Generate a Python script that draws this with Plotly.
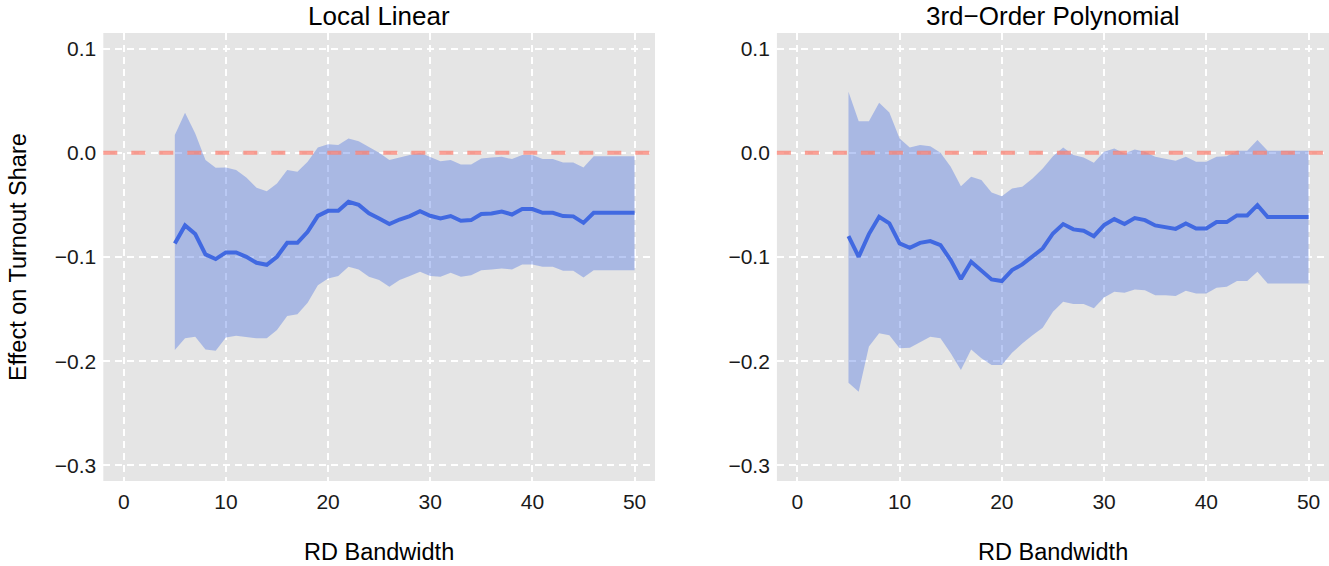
import plotly.graph_objects as go

bandwidth = list(range(5, 51))

ll_est = [-0.087, -0.0697, -0.078, -0.0975, -0.102, -0.0956, -0.0956, -0.0998, -0.1056, -0.1075,
          -0.0998, -0.0864, -0.0864, -0.0758, -0.0605, -0.0557, -0.0557, -0.047, -0.050, -0.058,
          -0.063, -0.0684, -0.064, -0.0607, -0.056, -0.0604, -0.063, -0.0607, -0.0652, -0.0646,
          -0.0588, -0.0582, -0.0563, -0.0592, -0.054, -0.054, -0.0576, -0.0576, -0.0607, -0.061,
          -0.0672, -0.0576, -0.0576, -0.0576, -0.0576, -0.0576]
ll_hi = [0.017, 0.0384, 0.0186, -0.007, -0.0144, -0.014, -0.0166, -0.0236, -0.0336, -0.0368,
         -0.0294, -0.0166, -0.0182, -0.0086, 0.0052, 0.0083, 0.0074, 0.0138, 0.0112, 0.0058,
         0.0, -0.007, -0.0044, -0.0022, 0.0, -0.0038, -0.008, -0.007, -0.0111, -0.0111,
         -0.0054, -0.0044, -0.0038, -0.006, -0.0022, -0.0022, -0.006, -0.006, -0.0092, -0.0092,
         -0.014, -0.0032, -0.0032, -0.0032, -0.0032, -0.0032]
ll_lo = [-0.1893, -0.178, -0.1766, -0.1887, -0.19, -0.1772, -0.1756, -0.1766, -0.178, -0.178,
         -0.170, -0.1567, -0.155, -0.144, -0.127, -0.1206, -0.1183, -0.1094, -0.112, -0.119,
         -0.122, -0.1286, -0.122, -0.1183, -0.1142, -0.1183, -0.119, -0.1152, -0.119, -0.1174,
         -0.1126, -0.112, -0.111, -0.112, -0.1071, -0.1071, -0.1094, -0.1094, -0.1132, -0.1132,
         -0.1196, -0.1126, -0.1126, -0.1126, -0.1126, -0.1126]

poly_est = [-0.080, -0.0998, -0.078, -0.0614, -0.0678, -0.087, -0.0912, -0.0864, -0.0847, -0.0886,
            -0.103, -0.1212, -0.1046, -0.1126, -0.1215, -0.1231, -0.1126, -0.1071, -0.0998, -0.0918,
            -0.0774, -0.0684, -0.0735, -0.0748, -0.080, -0.0694, -0.0636, -0.0684, -0.0627, -0.0646,
            -0.0697, -0.071, -0.073, -0.0678, -0.0726, -0.0726, -0.0665, -0.0665, -0.0601, -0.0601,
            -0.0502, -0.0617, -0.0617, -0.0617, -0.0617, -0.0617]
poly_hi = [0.0585, 0.0304, 0.0304, 0.048, 0.0388, 0.0138, 0.0052, 0.0074, 0.0064, 0.0,
           -0.0134, -0.032, -0.023, -0.026, -0.038, -0.0416, -0.0342, -0.0326, -0.0246, -0.015,
           -0.0032, 0.0052, -0.0022, -0.0044, -0.0096, 0.001, 0.0042, -0.0006, 0.0033, 0.001,
           -0.0038, -0.0058, -0.0077, -0.0038, -0.0086, -0.0086, -0.0038, -0.0032, 0.0019, 0.0019,
           0.0122, 0.0019, 0.0019, 0.0019, 0.0019, 0.0019]
poly_lo = [-0.2207, -0.2294, -0.186, -0.1733, -0.175, -0.1877, -0.187, -0.1814, -0.1766, -0.178,
           -0.1925, -0.2085, -0.1887, -0.1973, -0.2037, -0.2037, -0.192, -0.183, -0.175, -0.168,
           -0.1526, -0.143, -0.1452, -0.1452, -0.1493, -0.1388, -0.1334, -0.1343, -0.1311, -0.1318,
           -0.1366, -0.1366, -0.1375, -0.1324, -0.135, -0.135, -0.1296, -0.1286, -0.1231, -0.1231,
           -0.1142, -0.1254, -0.1254, -0.1254, -0.1254, -0.1254]

panel_titles = ["Local Linear", "3rd\u2212Order Polynomial"]
x_ticks = [0, 10, 20, 30, 40, 50]
y_ticks = [0.1, 0.0, -0.1, -0.2, -0.3]

W, H = 1329, 566
FONT = "Liberation Sans, Arial, sans-serif"
BAND = "rgba(65,105,225,0.36)"
LINE = "#4169E1"
GRID = "white"

fig = go.Figure()
panels = [(ll_est, ll_hi, ll_lo, "x", "y"), (poly_est, poly_hi, poly_lo, "x2", "y2")]
for est, hi, lo, xa, ya in panels:
    fig.add_trace(go.Scatter(x=bandwidth, y=lo, mode="lines", line=dict(width=0),
                             xaxis=xa, yaxis=ya, showlegend=False, hoverinfo="skip"))
    fig.add_trace(go.Scatter(x=bandwidth, y=hi, mode="lines", line=dict(width=0),
                             fill="tonexty", fillcolor=BAND,
                             xaxis=xa, yaxis=ya, showlegend=False, hoverinfo="skip"))
    fig.add_trace(go.Scatter(x=bandwidth, y=est, mode="lines", line=dict(color=LINE, width=4),
                             xaxis=xa, yaxis=ya, showlegend=False))

xdom1 = [103.3 / W, 655 / W]
xdom2 = [776.9 / W, 1.0]
ydom = [1 - 481 / H, 1 - 33 / H]

axis_common = dict(showgrid=True, gridcolor=GRID, gridwidth=1.6, griddash="7px,5px",
                   zeroline=False, showline=False, ticks="",
                   tickfont=dict(family=FONT, size=21, color="#1a1a1a"))

fig.update_layout(
    width=W, height=H,
    margin=dict(l=0, r=0, t=0, b=0),
    paper_bgcolor="white", plot_bgcolor="#E5E5E5",
    xaxis=dict(domain=xdom1, range=[-2, 52], tickvals=x_ticks, anchor="y", ticklabelstandoff=6, **axis_common),
    yaxis=dict(domain=ydom, range=[-0.315, 0.115], tickvals=y_ticks, tickformat=".1f", anchor="x",
               ticklabelstandoff=6, **axis_common),
    xaxis2=dict(domain=xdom2, range=[-2, 52], tickvals=x_ticks, anchor="y2", ticklabelstandoff=6, **axis_common),
    yaxis2=dict(domain=ydom, range=[-0.315, 0.115], tickvals=y_ticks, tickformat=".1f", anchor="x2",
                ticklabelstandoff=6, **axis_common),
)

for xref in ["x", "x2"]:
    yref = "y" if xref == "x" else "y2"
    fig.add_shape(type="line", xref=f"{xref} domain", yref=yref, x0=0, x1=1, y0=0, y1=0,
                  line=dict(color="rgba(250,128,114,0.75)", width=4, dash="14px,14px"), layer="above")

for dom, title in zip([xdom1, xdom2], panel_titles):
    cx = (dom[0] + dom[1]) / 2
    fig.add_annotation(text=title, x=cx, y=1 - 16 / H, xref="paper", yref="paper",
                       showarrow=False, xanchor="center", yanchor="middle",
                       font=dict(family=FONT, size=26, color="black"))
    fig.add_annotation(text="RD Bandwidth", x=cx, y=1 - 552 / H, xref="paper", yref="paper",
                       showarrow=False, xanchor="center", yanchor="middle",
                       font=dict(family=FONT, size=23.5, color="black"))

fig.add_annotation(text="Effect on Turnout Share", x=18 / W, y=1 - 257 / H, xref="paper", yref="paper",
                   showarrow=False, textangle=-90, xanchor="center", yanchor="middle",
                   font=dict(family=FONT, size=23.5, color="black"))

fig.write_html("out.html")
